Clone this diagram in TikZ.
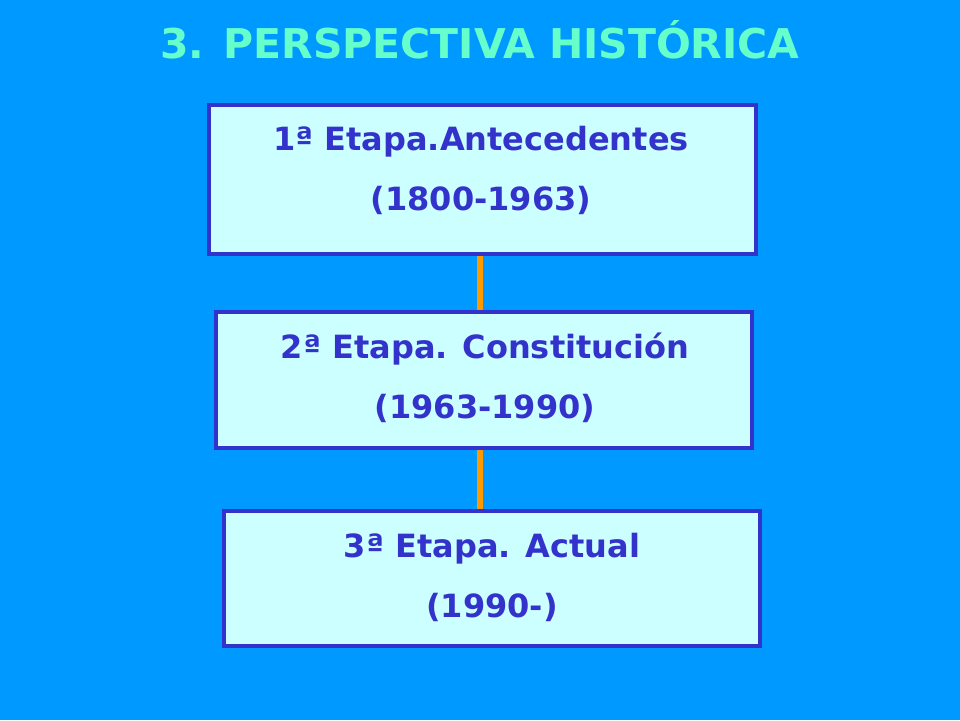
\documentclass[tikz,border=0pt]{standalone}
\usepackage{fontspec}
\setmainfont{DejaVu Sans}
\usetikzlibrary{backgrounds}
\definecolor{bgblue}{RGB}{0,153,255}
\definecolor{titlegreen}{RGB}{102,255,204}
\definecolor{boxfill}{RGB}{204,255,255}
\definecolor{boxline}{RGB}{51,51,204}
\definecolor{connorange}{RGB}{255,153,0}
\tikzset{
  stagebox/.style={draw=boxline, fill=boxfill, line width=4pt, inner sep=0pt},
  stagetext/.style={text=boxline, font=\fontsize{32}{60}\selectfont\bfseries, align=center, inner sep=0pt},
  conn/.style={draw=connorange, line width=6pt},
  titletext/.style={text=titlegreen, font=\fontsize{41}{44}\selectfont\bfseries, inner sep=0pt}
}
\begin{document}
\begin{tikzpicture}[x=1pt, y=-1pt]
\useasboundingbox (0,0) rectangle (960,720);
\node[titletext] (title) at (480,40) {3. PERSPECTIVA HISTÓRICA};
\node[stagebox, minimum width=547pt, minimum height=149pt] (b1) at (482.5,179.5) {};
\node[stagebox, minimum width=536pt, minimum height=136pt] (b2) at (484,380) {};
\node[stagebox, minimum width=536pt, minimum height=135pt] (b3) at (492,578.5) {};
\node[stagetext] (t1) at (481,170) {1ª Etapa.Antecedentes\\(1800-1963)};
\node[stagetext] (t2) at (485,377.5) {2ª Etapa. Constitución\\(1963-1990)};
\node[stagetext] (t3) at (492,577) {3ª Etapa. Actual\\(1990-)};
\begin{scope}[on background layer]
\fill[bgblue] (0,0) rectangle (960,720);
\draw[conn] ([xshift=-2.5pt]b1.south) -- ([xshift=-2.5pt]b1.south |- b2.north);
\draw[conn] ([xshift=-4pt]b2.south) -- ([xshift=-4pt]b2.south |- b3.north);
\end{scope}
\end{tikzpicture}
\end{document}
